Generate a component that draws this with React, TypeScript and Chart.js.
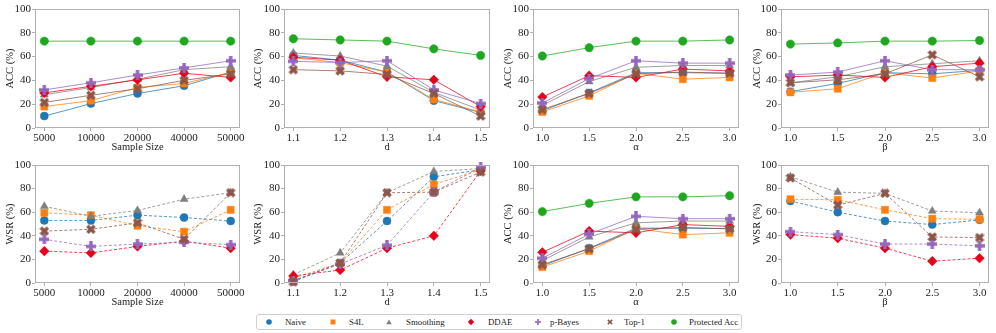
import React, { useEffect, useRef } from "react";
import { Chart, registerables } from "chart.js";
Chart.register(...registerables);

const FONT = "'Liberation Serif', 'Times New Roman', serif";
Chart.defaults.font.family = FONT;
Chart.defaults.font.size = 11;
Chart.defaults.color = "#222";

// ---------- data ----------
const methods = ["Naive", "S4L", "Smoothing", "DDAE", "p-Bayes", "Top-1", "Protected Acc"];
const sampleSizeLabels = ["5000", "10000", "20000", "40000", "50000"];
const dLabels = ["1.1", "1.2", "1.3", "1.4", "1.5"];
const alphaLabels = ["1.0", "1.5", "2.0", "2.5", "3.0"];
const betaLabels = ["1.0", "1.5", "2.0", "2.5", "3.0"];
const yTicks = [0, 20, 40, 60, 80, 100];

// rows ordered as `methods`
const sizeAcc = [
  [10, 20.5, 29, 35.5, 47],
  [18, 23, 34, 37.5, 46.5],
  [28, 34, 41, 49, 51.5],
  [29.5, 35, 40.5, 46, 42.5],
  [32, 38, 44.5, 50.5, 56.5],
  [21.5, 27.5, 33, 40, 45.5],
  [73, 73, 73, 73, 73],
];
const dAcc = [
  [61, 57, 47, 23, 13],
  [59, 55, 47, 24, 13.5],
  [63, 60.5, 52, 30, 15],
  [59.5, 57, 43, 40.5, 18],
  [56, 55, 56.5, 32, 20.5],
  [49, 48, 45, 29, 10],
  [75, 74, 73, 66.5, 61],
];
const alphaAcc = [
  [14.5, 29.5, 46.5, 46.5, 46],
  [13.5, 27, 46, 41, 42.5],
  [19, 39, 51, 52.5, 52.5],
  [26, 44, 42.5, 49.5, 48],
  [21, 41.5, 56.5, 54.5, 54.5],
  [15.5, 29, 45.5, 47, 46],
  [60.5, 67.5, 73, 73, 74],
];
const betaAcc = [
  [30.5, 37.5, 46.5, 45.5, 48.5],
  [30, 33, 46.5, 42, 48],
  [38, 43, 51.5, 54, 56.5],
  [43, 44.5, 42.5, 51.5, 54.5],
  [44.5, 47, 56.5, 49, 49],
  [38, 40.5, 45.5, 61.5, 43],
  [70.5, 71.5, 73, 73, 73.5],
];
const sizeWsr = [
  [53, 53, 57.5, 55.5, 52.5],
  [59.5, 57.5, 48.5, 43.5, 62],
  [65, 56.5, 61.5, 71, 76.5],
  [27, 25.5, 31, 35.5, 29.5],
  [37, 31, 33, 34.5, 32.5],
  [44, 45.5, 51, 37, 76.5],
];
const dWsr = [
  [2, 17, 52.5, 90, 96],
  [4, 17, 62, 83.5, 96],
  [7, 25.5, 76.5, 94.5, 97],
  [6, 11, 29.5, 40, 95],
  [2, 16, 32, 77, 98],
  [1, 17, 76.5, 77, 94],
];
const betaWsr = [
  [69.5, 60, 52.5, 49.5, 53.5],
  [71, 70.5, 62, 54.5, 54],
  [90, 77, 76, 61, 59.5],
  [41, 38, 29.5, 18.5, 21],
  [43.5, 41, 33, 33, 31.5],
  [89, 66, 76, 39, 38.5],
];

// ---------- styles ----------
const colors = ["#1f77b4", "#ff7f0e", "#7f7f7f", "#e8001a", "#9467bd", "#8c564b", "#1fa81f"];
const lineColors = [
  "rgba(31,119,180,0.75)",
  "rgba(255,127,14,0.75)",
  "rgba(127,127,127,0.75)",
  "rgba(232,0,26,0.75)",
  "rgba(148,103,189,0.75)",
  "rgba(140,86,75,0.75)",
  "rgba(31,168,31,0.75)",
];

function makeCross(color: string, size: number, rotate: boolean) {
  const c = document.createElement("canvas");
  c.width = size;
  c.height = size;
  const ctx = c.getContext("2d")!;
  ctx.fillStyle = color;
  ctx.translate(size / 2, size / 2);
  if (rotate) ctx.rotate(Math.PI / 4);
  const arm = size / 2;
  const t = size * 0.17;
  ctx.fillRect(-arm, -t, 2 * arm, 2 * t);
  ctx.fillRect(-t, -arm, 2 * t, 2 * arm);
  return c;
}

type PanelCfg = {
  left: number;
  top: number;
  width: number;
  height: number;
  yW: number;
  padTop: number;
  padRight: number;
  xLabels: string[];
  xTitle: string;
  yTitle: string;
  series: number[][];
  dashed: boolean;
};

const framePlugin = {
  id: "frame",
  afterDraw(chart: any) {
    const { ctx, chartArea: a } = chart;
    ctx.save();
    ctx.strokeStyle = "#b0b0b0";
    ctx.lineWidth = 1;
    const l = Math.round(a.left) + 0.5;
    const t = Math.round(a.top) + 0.5;
    const r = Math.round(a.right) - 0.5;
    const b = Math.round(a.bottom) - 0.5;
    ctx.strokeRect(l, t, r - l, b - t);
    ctx.restore();
  },
};

function Panel({ cfg }: { cfg: PanelCfg }) {
  const ref = useRef<HTMLCanvasElement>(null);
  useEffect(() => {
    const plusImg = makeCross(colors[4], 10, false);
    const xImg = makeCross(colors[5], 10, true);
    const styles: any[] = ["circle", "rect", "triangle", "rectRot", plusImg, xImg, "circle"];
    const radii = [4, 5, 4.6, 4.8, 5, 5, 4.2];
    const datasets = cfg.series.map((vals, i) => ({
      label: methods[i],
      data: vals.map((v, j) => ({ x: j, y: v })),
      borderColor: lineColors[i],
      backgroundColor: colors[i],
      pointBackgroundColor: colors[i],
      pointBorderColor: colors[i],
      pointBorderWidth: 0.5,
      borderWidth: 1,
      borderDash: cfg.dashed ? [3, 2] : [],
      pointStyle: styles[i],
      pointRadius: radii[i],
      tension: 0,
      clip: false as any,
      order: -i,
    }));
    const chart = new Chart(ref.current!, {
      type: "line",
      data: { datasets },
      plugins: [framePlugin],
      options: {
        animation: false,
        responsive: false,
        layout: { padding: { top: cfg.padTop, right: cfg.padRight, left: 0, bottom: 0 } },
        plugins: { legend: { display: false }, tooltip: { enabled: false } },
        scales: {
          x: {
            type: "linear",
            min: -0.2,
            max: 4.2,
            afterBuildTicks: (s: any) => {
              s.ticks = cfg.xLabels.map((_, i) => ({ value: i }));
            },
            afterFit: (s: any) => {
              s.height = 26;
            },
            ticks: {
              callback: (v: any) => cfg.xLabels[v],
              font: { family: FONT, size: 11 },
              color: "#222",
              padding: 1,
              maxRotation: 0,
            },
            grid: { display: true, drawOnChartArea: false, drawTicks: true, tickLength: 3, color: "#b0b0b0" },
            border: { display: false },
            title: {
              display: true,
              text: cfg.xTitle,
              font: { family: FONT, size: 10.5 },
              color: "#222",
              padding: { top: 0, bottom: 0 },
            },
          },
          y: {
            type: "linear",
            min: 0,
            max: 100,
            afterBuildTicks: (s: any) => {
              s.ticks = yTicks.map((v) => ({ value: v }));
            },
            afterFit: (s: any) => {
              s.width = cfg.yW;
            },
            ticks: {
              font: { family: FONT, size: 11 },
              color: "#222",
              padding: 1,
            },
            grid: { display: true, drawOnChartArea: false, drawTicks: true, tickLength: 3, color: "#b0b0b0" },
            border: { display: false },
            title: {
              display: true,
              text: cfg.yTitle,
              font: { family: FONT, size: 10.5 },
              color: "#222",
              padding: { top: 4, bottom: 0 },
            },
          },
        },
      },
    } as any);
    return () => {
      chart.destroy();
    };
  }, [cfg]);
  return (
    <canvas
      ref={ref}
      width={cfg.width}
      height={cfg.height}
      style={{ position: "absolute", left: cfg.left, top: cfg.top, width: cfg.width, height: cfg.height }}
    />
  );
}

const cols = [
  { left: 0, width: 248, yW: 35, padRight: 8 },
  { left: 248, width: 250, yW: 36, padRight: 8 },
  { left: 498, width: 249, yW: 35, padRight: 8 },
  { left: 747, width: 249, yW: 34, padRight: 7 },
];
const rows = [
  { top: 0, height: 154, padTop: 9 },
  { top: 156, height: 153, padTop: 9 },
];

const panels: PanelCfg[] = [
  { ...cols[0], ...rows[0], xLabels: sampleSizeLabels, xTitle: "Sample Size", yTitle: "ACC (%)", series: sizeAcc, dashed: false },
  { ...cols[1], ...rows[0], xLabels: dLabels, xTitle: "d", yTitle: "ACC (%)", series: dAcc, dashed: false },
  { ...cols[2], ...rows[0], xLabels: alphaLabels, xTitle: "α", yTitle: "ACC (%)", series: alphaAcc, dashed: false },
  { ...cols[3], ...rows[0], xLabels: betaLabels, xTitle: "β", yTitle: "ACC (%)", series: betaAcc, dashed: false },
  { ...cols[0], ...rows[1], xLabels: sampleSizeLabels, xTitle: "Sample Size", yTitle: "WSR (%)", series: sizeWsr, dashed: true },
  { ...cols[1], ...rows[1], xLabels: dLabels, xTitle: "d", yTitle: "WSR (%)", series: dWsr, dashed: true },
  { ...cols[2], ...rows[1], xLabels: alphaLabels, xTitle: "α", yTitle: "ACC (%)", series: alphaAcc, dashed: false },
  { ...cols[3], ...rows[1], xLabels: betaLabels, xTitle: "β", yTitle: "WSR (%)", series: betaWsr, dashed: true },
];

function LegendMarker({ i }: { i: number }) {
  const c = colors[i];
  let shape: React.ReactNode;
  switch (i) {
    case 1:
      shape = <rect x={1.5} y={1.5} width={5} height={5} fill={c} />;
      break;
    case 2:
      shape = <polygon points="4,1.5 6.8,6.3 1.2,6.3" fill={c} />;
      break;
    case 3:
      shape = <polygon points="4,0.8 7.2,4 4,7.2 0.8,4" fill={c} />;
      break;
    case 4:
      shape = (
        <g fill={c}>
          <rect x={3.2} y={1} width={1.6} height={6} />
          <rect x={1} y={3.2} width={6} height={1.6} />
        </g>
      );
      break;
    case 5:
      shape = (
        <g fill={c} transform="rotate(45 4 4)">
          <rect x={3.2} y={1} width={1.6} height={6} />
          <rect x={1} y={3.2} width={6} height={1.6} />
        </g>
      );
      break;
    default:
      shape = <circle cx={4} cy={4} r={2.8} fill={c} />;
  }
  return (
    <svg width={8} height={8} style={{ display: "block" }}>
      {shape}
    </svg>
  );
}

const legendMarkerX = [12, 76, 132, 214, 281, 353, 417];
const legendTextX = [28, 92, 149, 231, 293, 367, 432];

export default function App() {
  return (
    <div style={{ position: "fixed", left: 0, top: 0, width: 996, height: 333, background: "#fff", overflow: "hidden" }}>
      {panels.map((p, i) => (
        <Panel key={i} cfg={p} />
      ))}
      <div
        style={{
          position: "absolute",
          left: 256,
          top: 314,
          width: 486,
          height: 16,
          border: "1px solid #d0d0d0",
          borderRadius: 3,
          boxSizing: "border-box",
          fontFamily: FONT,
          fontSize: 8.8,
          color: "#222",
        }}
      >
        {methods.map((m, i) => (
          <React.Fragment key={m}>
            <div style={{ position: "absolute", left: legendMarkerX[i] - 4, top: 3 }}>
              <LegendMarker i={i} />
            </div>
            <div style={{ position: "absolute", left: legendTextX[i], top: 1.5, lineHeight: "11px", whiteSpace: "nowrap" }}>
              {m}
            </div>
          </React.Fragment>
        ))}
      </div>
    </div>
  );
}
